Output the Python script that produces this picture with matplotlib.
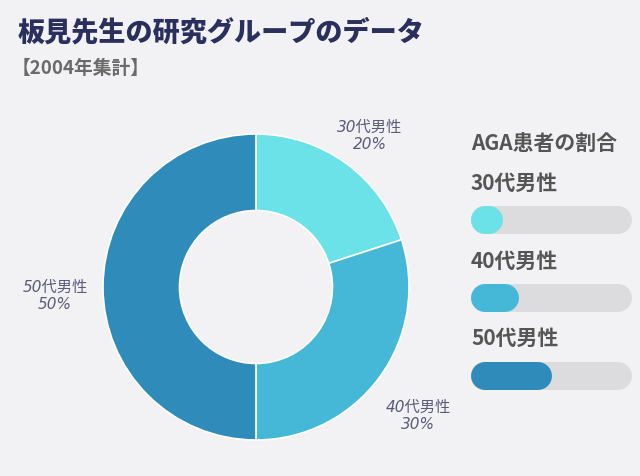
import matplotlib
matplotlib.use("Agg")
import matplotlib.pyplot as plt

plt.rcParams["font.family"] = ["Noto Sans CJK JP", "DejaVu Sans"]

# data
groups = ["30代男性", "40代男性", "50代男性"]
shares = [20, 30, 50]
colors = ["#6ae2e8", "#45b8d8", "#2e8bba"]
title = "板見先生の研究グループのデータ"
subtitle = "【2004年集計】"
legend_title = "AGA患者の割合"

W, H = 640, 476
bg = "#f2f2f4"
fig = plt.figure(figsize=(W / 100, H / 100), dpi=100, facecolor=bg)

fig.text(18 / W, 1 - 32 / H, title, fontsize=19.5, fontweight=900,
         color="#2b2f5e", va="center", ha="left")
fig.text(12 / W, 1 - 68 / H, subtitle, fontsize=13.5, fontweight="bold",
         color="#6a6a6a", va="center", ha="left")

# donut
cx, cy, r = 256, 287, 153
ax = fig.add_axes([(cx - r) / W, (H - cy - r) / H, 2 * r / W, 2 * r / H])
ax.set_facecolor(bg)
ax.pie(shares, colors=colors, startangle=90, counterclock=False,
       wedgeprops=dict(width=0.5, edgecolor="white", linewidth=1.2))
ax.set_xlim(-1, 1)
ax.set_ylim(-1, 1)
ax.set_aspect("equal")
ax.axis("off")

label_pos = [(370, 136), (418, 416), (55, 296)]
for (x, y), g, s in zip(label_pos, groups, shares):
    fig.text(x / W, 1 - y / H, f"{g}\n{s}%", fontsize=11, style="italic",
             color="#5a5a7a", ha="center", va="center", linespacing=1.15,
             family=["DejaVu Sans", "Noto Sans CJK JP"])

# progress bars
x0, x1 = 471, 632
bar_h = 28
bar_y = [220, 298, 376]
label_y = [183, 261, 338]

fig.text(x0 / W, 1 - 143 / H, legend_title, fontsize=15, fontweight="bold",
         color="#555555", va="center", ha="left")

bax = fig.add_axes([x0 / W, (H - 400) / H, (x1 - x0) / W, (400 - 190) / H])
bax.set_facecolor("none")
bax.set_xlim(0, 100)
bax.set_ylim(400, 190)
bax.axis("off")
cap = (bar_h / 2) / (x1 - x0) * 100
lw = bar_h * 72 / 100
for g, s, c, y, ly in zip(groups, shares, colors, bar_y, label_y):
    bax.plot([cap, 100 - cap], [y, y], color="#dcdcdf", lw=lw,
             solid_capstyle="round")
    bax.plot([cap, max(s - cap, cap)], [y, y], color=c, lw=lw,
             solid_capstyle="round")
    fig.text(x0 / W, 1 - ly / H, g, fontsize=15, fontweight="bold",
             color="#555555", va="center", ha="left")

fig.savefig("out.png", dpi=100, facecolor=bg)
